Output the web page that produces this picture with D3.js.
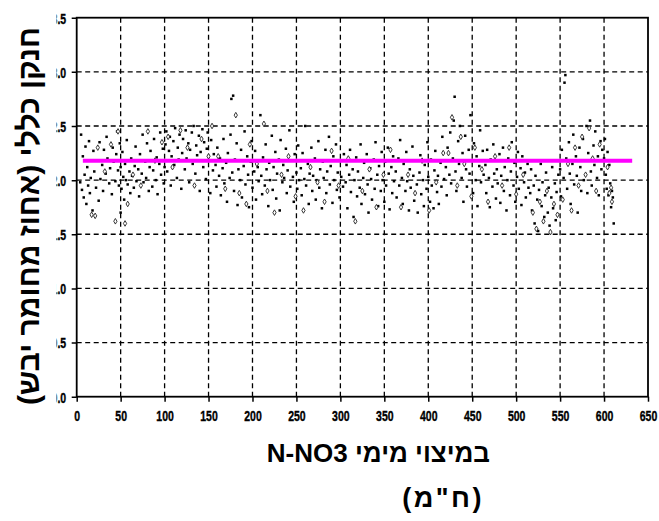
<!DOCTYPE html>
<html>
<head>
<meta charset="utf-8">
<script src="https://cdn.jsdelivr.net/npm/d3@7"></script>
<style>
  body { margin: 0; background: #fff; }
  svg { display: block; }
</style>
</head>
<body>
<script>
// Axis ticks
const xTicks = [0, 50, 100, 150, 200, 250, 300, 350, 400, 450, 500, 550, 600, 650];
const yTicks = [0, 0.5, 1.0, 1.5, 2.0, 2.5, 3.0, 3.5];

// Mean line of total nitrogen
const meanLine = [[7, 2.18], [632, 2.18]];

// Samples: [N-NO3 in water extract (ppm), total N (% dry matter)]
const squareSeries = [
  [4,1.98],[5,2.42],[6,1.91],[7,2.22],[8,1.84],[9,2.05],[10,2.31],[11,1.78],[12,2.12],[13,1.95],
  [14,2.36],[15,1.88],[16,2.02],[18,1.72],[19,2.27],[20,2.08],[22,1.93],[23,2.18],[25,1.81],[26,2.35],
  [27,2.01],[29,2.14],[30,1.9],[31,2.28],[33,2.06],[34,2.4],[35,2.2],[37,1.97],[38,2.11],[40,1.87],
  [41,2.3],[42,2.17],[44,1.99],[45,2.24],[46,2.45],[47,2.09],[48,1.95],[49,2.34],[50,1.7],[50,2.12],
  [51,1.92],[52,2.26],[53,2.03],[54,1.82],[55,2.15],[56,2.0],[57,2.37],[58,1.96],[60,2.08],[61,1.88],
  [62,2.2],[63,2.04],[65,1.93],[66,2.13],[67,2.31],[68,1.99],[70,2.1],[71,1.85],[72,2.24],[74,2.06],
  [75,2.42],[76,1.98],[78,2.17],[79,2.02],[80,2.34],[82,1.9],[83,2.12],[84,2.27],[86,1.94],[87,2.09],
  [88,2.38],[90,2.0],[91,2.21],[92,1.87],[94,2.15],[95,2.44],[96,2.05],[98,2.29],[99,1.97],[100,2.12],
  [101,2.33],[102,2.45],[103,2.08],[105,2.27],[106,2.4],[107,1.95],[108,2.22],[110,2.36],[111,2.14],[112,2.48],
  [114,2.02],[115,2.3],[116,2.19],[117,2.42],[119,1.92],[120,2.25],[121,2.38],[123,2.1],[124,2.46],[125,2.2],
  [127,2.34],[128,1.98],[129,2.28],[131,2.44],[132,2.15],[133,2.5],[135,2.06],[136,2.32],[137,2.23],[139,2.41],
  [140,1.9],[141,2.26],[143,2.47],[144,2.12],[145,2.35],[147,2.01],[148,2.29],[149,2.44],[151,2.18],[152,1.88],
  [153,2.37],[155,2.09],[156,2.24],[158,2.14],[159,1.94],[160,2.3],[162,2.04],[163,2.2],[164,1.86],[166,2.11],
  [167,2.38],[168,1.97],[170,2.16],[171,1.8],[172,2.25],[174,2.02],[175,2.42],[176,2.75],[177,2.07],[178,2.78],
  [179,1.9],[180,2.19],[182,2.34],[183,1.77],[184,2.1],[186,2.0],[187,2.28],[188,1.84],[190,2.13],[191,2.45],
  [192,1.96],[194,2.22],[195,2.05],[196,1.75],[198,2.17],[199,2.36],[200,1.93],[202,2.08],[203,2.27],[204,1.82],
  [206,2.12],[207,1.99],[209,2.6],[210,2.04],[211,1.87],[212,2.21],[214,1.95],[215,2.33],[216,2.1],[218,1.76],
  [219,2.16],[220,2.0],[222,2.41],[223,1.91],[224,2.12],[226,2.26],[227,1.83],[228,2.06],[230,2.19],[231,1.72],
  [232,2.37],[234,1.98],[235,2.14],[236,2.02],[238,2.29],[239,1.88],[240,2.09],[242,2.46],[243,1.94],[244,2.18],
  [246,2.03],[247,1.8],[248,2.24],[250,2.07],[251,1.92],[252,2.32],[253,2.0],[255,2.11],[256,1.86],[257,2.25],
  [259,2.01],[260,2.5],[261,1.95],[263,2.15],[264,1.78],[265,2.06],[267,2.3],[268,1.9],[269,2.04],[271,2.2],
  [272,1.82],[273,2.0],[275,2.36],[276,1.93],[277,2.1],[279,1.74],[280,2.17],[281,2.02],[283,2.28],[284,1.88],
  [285,2.08],[287,2.4],[288,1.96],[289,2.13],[291,1.79],[292,2.22],[293,2.0],[295,2.33],[296,1.91],[297,2.07],
  [299,1.84],[300,2.18],[301,2.03],[303,1.94],[304,2.24],[306,1.98],[307,2.14],[308,1.74],[310,2.05],[311,2.28],
  [312,1.89],[314,2.1],[315,1.66],[316,2.0],[318,2.21],[319,1.85],[320,2.08],[322,1.93],[323,2.33],[324,1.78],
  [326,2.02],[327,2.16],[328,1.87],[330,2.24],[331,1.96],[332,1.7],[334,2.11],[335,2.01],[336,1.82],[338,2.19],
  [339,1.92],[340,2.35],[342,2.05],[343,1.76],[344,2.13],[346,1.9],[347,2.26],[348,2.0],[350,1.8],[351,2.17],
  [352,1.95],[354,2.3],[355,2.06],[356,1.73],[358,2.12],[359,1.88],[360,2.22],[361,1.99],[363,2.08],[364,1.84],
  [366,2.2],[367,1.95],[368,2.37],[370,2.02],[371,1.78],[372,2.15],[374,1.9],[375,2.26],[376,1.99],[378,1.72],
  [379,2.1],[380,1.93],[382,2.31],[383,2.04],[384,1.81],[386,2.18],[387,1.96],[388,1.7],[390,2.07],[391,2.23],
  [392,1.87],[394,2.0],[395,1.76],[396,2.14],[398,1.92],[399,2.35],[400,2.03],[402,1.8],[403,2.19],[404,1.95],
  [406,1.74],[407,2.09],[408,2.27],[410,1.89],[411,2.04],[412,1.78],[414,2.16],[415,1.94],[416,2.4],[418,2.01],
  [420,2.12],[421,1.86],[422,2.3],[424,2.05],[425,2.44],[426,1.97],[428,2.2],[429,2.55],[430,2.77],[431,2.08],
  [432,1.9],[434,2.36],[435,2.15],[436,2.5],[438,2.02],[439,2.25],[440,1.8],[442,2.41],[443,2.1],[444,1.94],
  [446,2.28],[447,2.06],[448,2.6],[450,2.18],[451,1.88],[452,2.34],[454,2.0],[455,2.22],[456,1.76],[458,2.13],
  [459,2.46],[460,1.98],[462,2.27],[463,2.05],[465,2.14],[466,1.88],[467,2.28],[469,2.02],[470,1.75],[471,2.19],
  [473,1.94],[474,2.33],[475,2.06],[477,1.83],[478,2.1],[479,1.97],[481,2.24],[482,1.79],[483,2.04],[485,2.3],
  [486,1.9],[487,2.12],[489,1.72],[490,2.0],[491,2.2],[493,1.86],[494,2.08],[495,2.35],[497,1.95],[498,2.16],
  [499,1.8],[501,2.03],[502,2.26],[503,1.92],[505,2.11],[506,1.77],[507,2.22],[509,1.98],[510,2.07],[511,1.84],
  [513,2.15],[514,1.93],[516,1.88],[517,2.1],[518,1.72],[520,1.95],[521,1.6],[522,2.04],[524,1.82],[525,1.53],
  [526,1.91],[528,2.15],[529,1.76],[530,1.98],[532,1.66],[533,1.86],[534,2.07],[536,1.7],[537,1.93],[538,1.58],
  [540,1.84],[541,2.12],[542,1.74],[544,1.97],[545,1.63],[546,1.89],[548,2.05],[550,2.1],[551,1.85],[552,2.28],
  [554,2.02],[555,2.9],[556,2.97],[557,2.2],[558,1.92],[560,2.35],[561,2.06],[562,1.78],[564,2.15],[565,2.42],
  [566,1.96],[568,2.22],[569,2.04],[570,1.7],[572,2.3],[573,2.12],[574,1.9],[576,2.38],[577,2.0],[578,2.18],
  [580,2.5],[581,1.88],[582,2.25],[584,2.55],[585,2.08],[586,1.95],[588,2.32],[589,2.14],[590,2.45],[592,2.02],
  [593,2.22],[594,1.86],[596,2.36],[597,2.1],[598,2.28],[600,2.2],[601,2.38],[602,2.05],[603,1.92],[604,2.26],
  [605,1.86],[606,2.14],[607,1.97],[608,1.75],[609,1.9],[610,1.84],[611,1.6]
];

const diamondSeries = [
  [17,1.68],[21,1.67],[24,2.3],[32,2.08],[39,2.33],[44,1.62],[47,2.45],
  [55,1.6],[58,1.78],[64,2.05],[73,1.95],[81,2.45],[89,2.18],[97,2.35],
  [104,2.4],[109,2.12],[118,2.46],[126,2.3],[134,1.95],[142,2.38],[150,2.22],[154,2.5],
  [161,2.22],[169,1.92],[181,2.6],[185,1.88],[193,1.78],[197,2.33],[205,2.15],
  [213,2.52],[217,1.9],[225,1.7],[233,2.05],[241,2.22],[249,1.85],
  [258,1.72],[266,2.12],[274,1.98],[282,1.8],[290,2.27],[298,1.95],
  [309,2.2],[317,1.62],[325,1.9],[333,2.1],[341,1.75],[349,2.05],[357,2.28],
  [369,1.75],[377,2.05],[385,1.88],[393,2.18],[401,1.72],[409,1.98],[417,2.25],
  [423,2.25],[427,2.58],[433,1.95],[437,2.4],[441,2.15],[449,1.85],[453,2.3],[461,2.1],
  [468,1.8],[476,2.22],[484,1.95],[492,2.3],[500,1.87],[508,2.05],
  [519,1.7],[523,1.55],[527,1.8],[531,1.62],[535,1.9],[539,1.52],[543,1.78],[547,1.68],
  [553,1.82],[559,2.15],[563,1.72],[567,2.3],[571,1.95],[575,2.4],[579,2.05],[583,2.48],[587,2.2],[591,1.9],[595,2.33],
  [604,2.12],[606,1.88],[608,1.93],[609,1.8]
];

const yTitle = "חנקן כללי (אחוז מחומר יבש)";
const xTitleLines = ["N-NO3 במיצוי מימי", "(ח\"מ)"];

const W = 659, H = 521;
const plot = { left: 76.7, right: 648, top: 17.7, bottom: 396.7 };

const x = d3.scaleLinear().domain([0, 650]).range([plot.left, plot.right]);
const y = d3.scaleLinear().domain([0, 3.5]).range([plot.bottom, plot.top]);

const svg = d3.select("body").append("svg")
  .attr("width", W).attr("height", H)
  .attr("viewBox", `0 0 ${W} ${H}`);

const font = "'Liberation Sans', Arial, 'DejaVu Sans', sans-serif";

// Dashed grid
const grid = svg.append("g").attr("stroke", "#000").attr("stroke-width", 1.3)
  .attr("stroke-dasharray", "5,3.5");
grid.selectAll("line.v").data(xTicks.slice(1, -1)).join("line").attr("class", "v")
  .attr("x1", d => x(d)).attr("x2", d => x(d))
  .attr("y1", plot.top).attr("y2", plot.bottom);
grid.selectAll("line.h").data(yTicks.slice(1, -1)).join("line").attr("class", "h")
  .attr("x1", plot.left).attr("x2", plot.right)
  .attr("y1", d => y(d)).attr("y2", d => y(d));

// Sample markers
svg.append("g").selectAll("rect").data(squareSeries).join("rect")
  .attr("x", d => x(d[0]) - 1.25).attr("y", d => y(d[1]) - 1.25)
  .attr("width", 2.5).attr("height", 2.5).attr("fill", "#000");

const diamond = d3.symbol().type(d3.symbolDiamond).size(9);
svg.append("g").selectAll("path").data(diamondSeries).join("path")
  .attr("d", diamond)
  .attr("transform", d => `translate(${x(d[0])},${y(d[1])})`)
  .attr("fill", "#fff").attr("stroke", "#222").attr("stroke-width", 0.9);

// Mean line
svg.append("path").datum(meanLine)
  .attr("d", d3.line().x(d => x(d[0])).y(d => y(d[1])))
  .attr("stroke", "#ff00ff").attr("stroke-width", 4).attr("fill", "none");

// Plot frame
svg.append("rect")
  .attr("x", plot.left).attr("y", plot.top)
  .attr("width", plot.right - plot.left).attr("height", plot.bottom - plot.top)
  .attr("fill", "none").attr("stroke", "#000").attr("stroke-width", 1.8);

// Axes
const labelScale = 0.7;
const xAxis = svg.append("g").attr("transform", `translate(0,${plot.bottom})`)
  .call(d3.axisBottom(x).tickValues(xTicks).tickSize(5).tickSizeOuter(0).tickFormat(d3.format("d")));
xAxis.select(".domain").remove();
xAxis.selectAll(".tick line").attr("stroke", "#000").attr("stroke-width", 1.5);
xAxis.selectAll(".tick text")
  .attr("y", 24).attr("dy", null)
  .attr("transform", `scale(${labelScale},1)`)
  .attr("font-family", font).attr("font-size", 15).attr("font-weight", "bold").attr("fill", "#000")
  .attr("stroke", "#000").attr("stroke-width", 0.4);

// Tick labels of the value axis sit in a narrow band left of the axis
svg.append("clipPath").attr("id", "ylab-clip")
  .append("rect").attr("x", 56.5 - plot.left).attr("y", 0).attr("width", plot.left - 56.5 + 2).attr("height", H);

const yAxis = svg.append("g").attr("transform", `translate(${plot.left},0)`)
  .attr("clip-path", "url(#ylab-clip)")
  .call(d3.axisLeft(y).tickValues(yTicks).tickSize(5).tickSizeOuter(0).tickFormat(d3.format(".1f")));
yAxis.select(".domain").remove();
yAxis.selectAll(".tick line").attr("stroke", "#000").attr("stroke-width", 1.5);
yAxis.selectAll(".tick text")
  .attr("x", -10.5 / labelScale).attr("dy", "0.36em")
  .attr("transform", `scale(${labelScale},1)`)
  .attr("font-family", font).attr("font-size", 15).attr("font-weight", "bold").attr("fill", "#000")
  .attr("stroke", "#000").attr("stroke-width", 0.4);

// Axis titles
svg.append("text")
  .attr("transform", "translate(39,216) rotate(-90)")
  .attr("text-anchor", "middle")
  .attr("font-family", font).attr("font-size", 30).attr("font-weight", "bold")
  .text(yTitle);

svg.append("text")
  .attr("x", 490).attr("y", 462).attr("text-anchor", "end")
  .attr("font-family", font).attr("font-size", 26).attr("font-weight", "bold")
  .text(xTitleLines[0]);
svg.append("text")
  .attr("x", 484).attr("y", 507).attr("text-anchor", "end")
  .attr("font-family", font).attr("font-size", 27).attr("font-weight", "bold")
  .attr("letter-spacing", 2.5)
  .text(xTitleLines[1]);
</script>
</body>
</html>
